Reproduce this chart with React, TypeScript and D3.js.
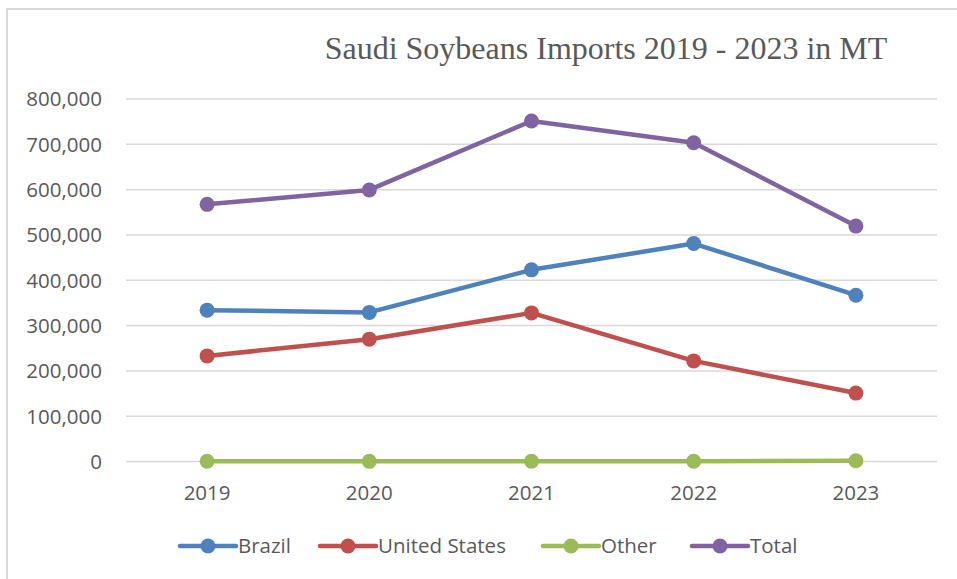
import React from "react";
import * as d3 from "d3";

const years = ["2019", "2020", "2021", "2022", "2023"];
const brazil = [334000, 329000, 423000, 481000, 367000];
const unitedStates = [233000, 270000, 328000, 222000, 151000];
const other = [500, 300, 400, 600, 1500];
const total = [567500, 599300, 751400, 703600, 519500];
const yTicks = [0, 100000, 200000, 300000, 400000, 500000, 600000, 700000, 800000];

const seriesNames = ["Brazil", "United States", "Other", "Total"];
const seriesColors = ["#4f81bd", "#c0504d", "#9bbb59", "#8064a2"];
const seriesValues = [brazil, unitedStates, other, total];

const W = 957;
const H = 579;
const labelFont = "'Open Sans', 'Liberation Sans', sans-serif";

export default function App() {
  const x = d3.scalePoint<string>().domain(years).range([126, 937]).padding(0.5);
  const y = d3.scaleLinear().domain([0, 800000]).range([461.5, 99]);
  const fmt = d3.format(",");
  const line = d3
    .line<number>()
    .x((_, i) => x(years[i]) as number)
    .y((d) => y(d));

  const legendX = [180, 320, 543, 692];

  return (
    <svg
      width={W}
      height={H}
      style={{ position: "absolute", left: 0, top: 0, background: "#fff" }}
    >
      <rect x={7} y={9} width={W + 20} height={H + 20} fill="#fff" stroke="#d9d9d9" strokeWidth={2} />
      <text
        x={606}
        y={59}
        textAnchor="middle"
        fontFamily="'Liberation Serif', 'Times New Roman', serif"
        fontSize={32}
        fill="#595959"
      >
        Saudi Soybeans Imports 2019 - 2023 in MT
      </text>
      {yTicks.map((t) => (
        <g key={t}>
          <line x1={126} x2={937} y1={y(t)} y2={y(t)} stroke="#d9d9d9" strokeWidth={1.5} />
          <text
            x={102}
            y={y(t)}
            dy="0.36em"
            textAnchor="end"
            fontFamily={labelFont}
            fontSize={20.5}
            fill="#595959"
          >
            {fmt(t)}
          </text>
        </g>
      ))}
      {years.map((yr) => (
        <text
          key={yr}
          x={x(yr)}
          y={500}
          textAnchor="middle"
          fontFamily={labelFont}
          fontSize={20.5}
          fill="#595959"
        >
          {yr}
        </text>
      ))}
      {seriesValues.map((vals, si) => (
        <g key={seriesNames[si]}>
          <path
            d={line(vals) || ""}
            fill="none"
            stroke={seriesColors[si]}
            strokeWidth={4.5}
            strokeLinejoin="round"
            strokeLinecap="round"
          />
          {vals.map((v, i) => (
            <circle key={i} cx={x(years[i])} cy={y(v)} r={7.5} fill={seriesColors[si]} />
          ))}
        </g>
      ))}
      {seriesNames.map((name, si) => {
        const lx = legendX[si];
        return (
          <g key={name}>
            <line
              x1={lx}
              x2={lx + 56}
              y1={546}
              y2={546}
              stroke={seriesColors[si]}
              strokeWidth={4.5}
              strokeLinecap="round"
            />
            <circle cx={lx + 28} cy={546} r={7.5} fill={seriesColors[si]} />
            <text
              x={lx + 58}
              y={552.5}
              fontFamily={labelFont}
              fontSize={20.5}
              fill="#595959"
            >
              {name}
            </text>
          </g>
        );
      })}
    </svg>
  );
}
